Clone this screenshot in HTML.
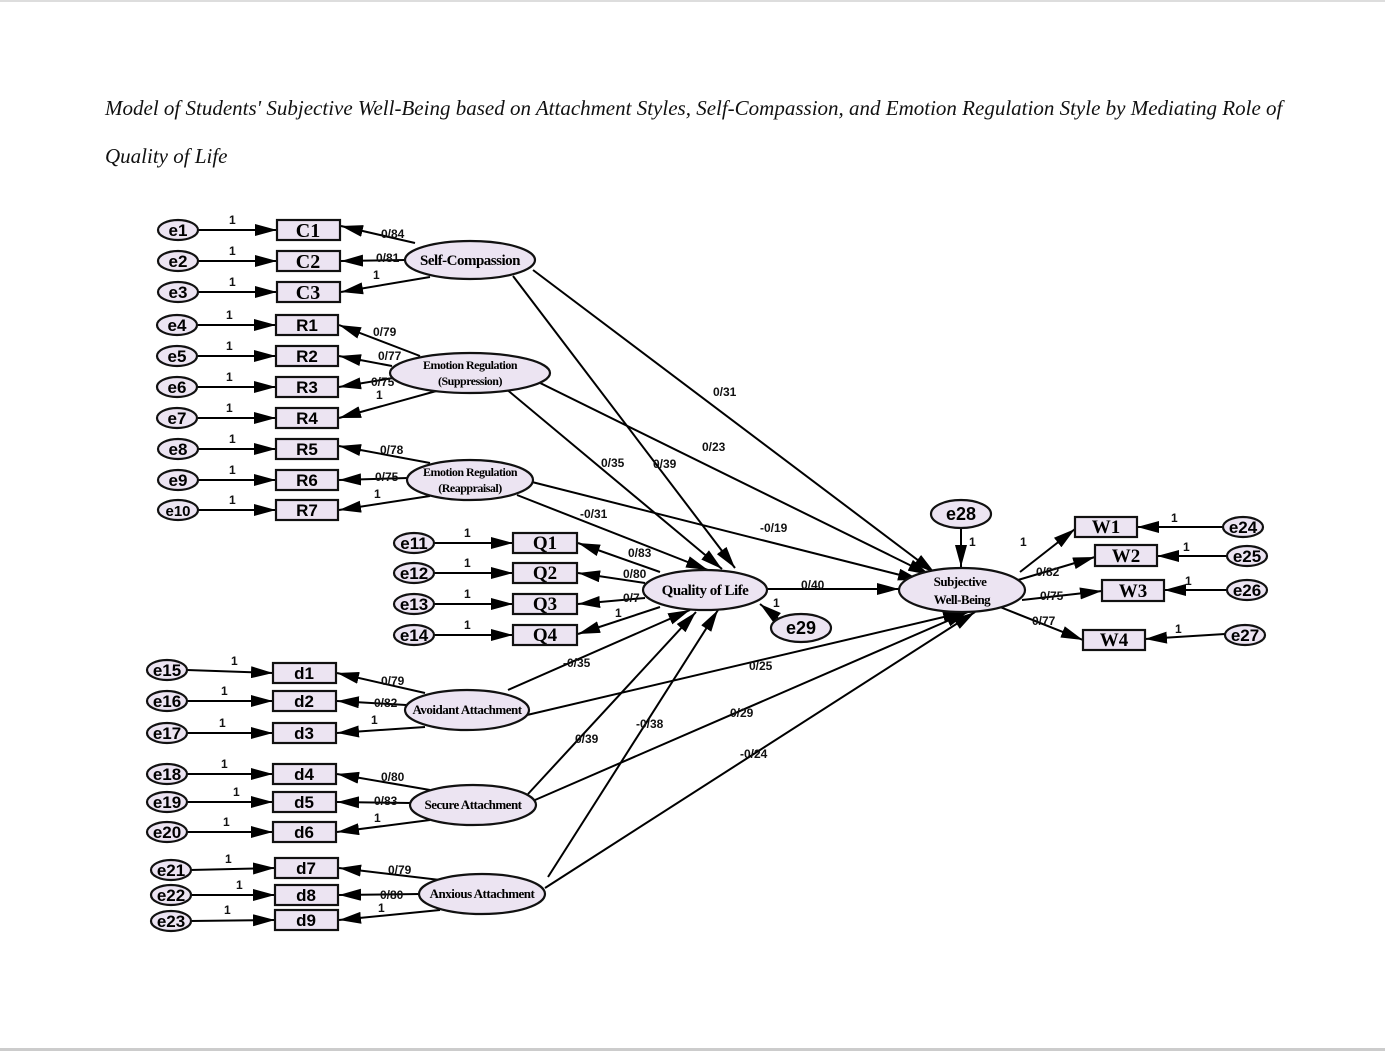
<!DOCTYPE html>
<html><head><meta charset="utf-8"><style>
html,body{margin:0;padding:0;background:#fff;}
body{width:1385px;height:1051px;position:relative;overflow:hidden;}
.t{position:absolute;left:105px;font-family:"Liberation Serif",serif;font-style:italic;font-size:21px;color:#111;}
</style></head><body>
<div style="position:absolute;left:0;top:0;width:1385px;height:2px;background:#ddd"></div>
<div style="position:absolute;left:0;top:1048px;width:1385px;height:3px;background:#ccc"></div>
<div class="t" style="top:96px">Model of Students' Subjective Well-Being based on Attachment Styles, Self-Compassion, and Emotion Regulation Style by Mediating Role of</div>
<div class="t" style="top:144px">Quality of Life</div>
<svg width="1385" height="1051" style="position:absolute;left:0;top:0">
<defs>
<marker id="b" markerWidth="22" markerHeight="12" refX="22" refY="6" orient="auto" markerUnits="userSpaceOnUse"><path d="M0,0 L22,6 L0,12z" fill="#000"/></marker></defs>
<g stroke="#000" stroke-width="2" fill="none" marker-end="url(#b)">
<line x1="198" y1="230" x2="277" y2="230"/><line x1="198" y1="261" x2="277" y2="261"/><line x1="198" y1="292" x2="277" y2="292"/>
<line x1="198" y1="325" x2="276" y2="325"/><line x1="198" y1="356" x2="276" y2="356"/><line x1="198" y1="387" x2="276" y2="387"/><line x1="198" y1="418" x2="276" y2="418"/>
<line x1="198" y1="449" x2="276" y2="449"/><line x1="198" y1="480" x2="276" y2="480"/><line x1="198" y1="510" x2="276" y2="510"/>
<line x1="434" y1="543" x2="513" y2="543"/><line x1="434" y1="573" x2="513" y2="573"/><line x1="434" y1="604" x2="513" y2="604"/><line x1="434" y1="635" x2="513" y2="635"/>
<line x1="187" y1="670" x2="273" y2="673"/><line x1="187" y1="701" x2="273" y2="701"/><line x1="187" y1="733" x2="273" y2="733"/>
<line x1="187" y1="774" x2="273" y2="774"/><line x1="187" y1="802" x2="273" y2="802"/><line x1="187" y1="832" x2="273" y2="832"/>
<line x1="190" y1="870" x2="275" y2="868"/><line x1="190" y1="895" x2="275" y2="895"/><line x1="190" y1="921" x2="275" y2="920"/>
<line x1="415" y1="243" x2="341" y2="226"/><line x1="405" y1="260" x2="341" y2="261"/><line x1="430" y1="277" x2="341" y2="292"/>
<line x1="420" y1="356" x2="339" y2="325"/><line x1="392" y1="366" x2="339" y2="356"/><line x1="393" y1="378" x2="339" y2="387"/><line x1="440" y1="390" x2="339" y2="418"/>
<line x1="430" y1="463" x2="339" y2="446"/><line x1="408" y1="478" x2="339" y2="480"/><line x1="430" y1="496" x2="339" y2="510"/>
<line x1="660" y1="572" x2="578" y2="543"/><line x1="645" y1="583" x2="578" y2="573"/><line x1="645" y1="598" x2="578" y2="604"/><line x1="660" y1="607" x2="578" y2="634"/>
<line x1="425" y1="693" x2="337" y2="673"/><line x1="406" y1="705" x2="337" y2="701"/><line x1="425" y1="727" x2="337" y2="733"/>
<line x1="430" y1="790" x2="337" y2="774"/><line x1="411" y1="803" x2="337" y2="802"/><line x1="430" y1="820" x2="337" y2="832"/>
<line x1="440" y1="880" x2="339" y2="868"/><line x1="420" y1="894" x2="339" y2="895"/><line x1="440" y1="910" x2="339" y2="920"/>
<line x1="1020" y1="572" x2="1075" y2="529"/><line x1="1018" y1="580" x2="1095" y2="557"/><line x1="1022" y1="600" x2="1102" y2="591"/><line x1="1000" y1="607" x2="1083" y2="640"/>
<line x1="1225" y1="527" x2="1137" y2="527"/><line x1="1227" y1="556" x2="1157" y2="556"/><line x1="1227" y1="590" x2="1164" y2="590"/><line x1="1225" y1="634" x2="1145" y2="639"/>
<line x1="961" y1="528" x2="961" y2="567"/>
<line x1="780" y1="620" x2="760" y2="604"/>
<line x1="513" y1="276" x2="735" y2="568"/>
<line x1="533" y1="270" x2="935" y2="573"/>
<line x1="505" y1="388" x2="722" y2="569"/>
<line x1="530" y1="378" x2="930" y2="575"/>
<line x1="517" y1="495" x2="708" y2="570"/>
<line x1="532" y1="482" x2="920" y2="580"/>
<line x1="767" y1="589" x2="899" y2="589"/>
<line x1="508" y1="690" x2="690" y2="610"/>
<line x1="527" y1="715" x2="965" y2="612"/>
<line x1="528" y1="794" x2="696" y2="612"/>
<line x1="535" y1="800" x2="968" y2="612"/>
<line x1="548" y1="877" x2="718" y2="610"/>
<line x1="545" y1="888" x2="975" y2="612"/>
</g>
<g stroke="#111" stroke-width="2.2" fill="#ece4f2">
<ellipse cx="178" cy="230" rx="20" ry="10"/><ellipse cx="178" cy="261" rx="20" ry="10"/><ellipse cx="178" cy="292" rx="20" ry="10"/>
<ellipse cx="177" cy="325" rx="20" ry="10"/><ellipse cx="177" cy="356" rx="20" ry="10"/><ellipse cx="177" cy="387" rx="20" ry="10"/><ellipse cx="177" cy="418" rx="20" ry="10"/>
<ellipse cx="178" cy="449" rx="20" ry="10"/><ellipse cx="178" cy="480" rx="20" ry="10"/><ellipse cx="178" cy="510" rx="20" ry="10"/>
<ellipse cx="414" cy="543" rx="20" ry="10"/><ellipse cx="414" cy="573" rx="20" ry="10"/><ellipse cx="414" cy="604" rx="20" ry="10"/><ellipse cx="414" cy="635" rx="20" ry="10"/>
<ellipse cx="167" cy="670" rx="20" ry="10"/><ellipse cx="167" cy="701" rx="20" ry="10"/><ellipse cx="167" cy="733" rx="20" ry="10"/>
<ellipse cx="167" cy="774" rx="20" ry="10"/><ellipse cx="167" cy="802" rx="20" ry="10"/><ellipse cx="167" cy="832" rx="20" ry="10"/>
<ellipse cx="171" cy="870" rx="20" ry="10"/><ellipse cx="171" cy="895" rx="20" ry="10"/><ellipse cx="171" cy="921" rx="20" ry="10"/>
<ellipse cx="1243" cy="527" rx="20" ry="10"/><ellipse cx="1247" cy="556" rx="20" ry="10"/><ellipse cx="1247" cy="590" rx="20" ry="10"/><ellipse cx="1245" cy="635" rx="20" ry="10"/>
<ellipse cx="961" cy="514" rx="30" ry="14"/><ellipse cx="801" cy="628" rx="30" ry="14"/>
<ellipse cx="470" cy="260" rx="65" ry="19"/><ellipse cx="470" cy="373" rx="80" ry="20"/><ellipse cx="470" cy="480" rx="63" ry="20"/>
<ellipse cx="705" cy="590" rx="62" ry="20"/><ellipse cx="962" cy="590" rx="63" ry="22"/>
<ellipse cx="467" cy="710" rx="62" ry="20"/><ellipse cx="473" cy="805" rx="63" ry="20"/><ellipse cx="482" cy="894" rx="63" ry="20"/>
<rect x="277" y="220" width="63" height="20"/><rect x="277" y="251" width="63" height="20"/><rect x="277" y="282" width="63" height="20"/>
<rect x="276" y="315" width="62" height="20"/><rect x="276" y="346" width="62" height="20"/><rect x="276" y="377" width="62" height="20"/><rect x="276" y="408" width="62" height="20"/>
<rect x="276" y="439" width="62" height="20"/><rect x="276" y="470" width="62" height="20"/><rect x="276" y="500" width="62" height="20"/>
<rect x="513" y="533" width="64" height="20"/><rect x="513" y="563" width="64" height="20"/><rect x="513" y="594" width="64" height="20"/><rect x="513" y="625" width="64" height="20"/>
<rect x="273" y="663" width="63" height="20"/><rect x="273" y="691" width="63" height="20"/><rect x="273" y="723" width="63" height="20"/>
<rect x="273" y="764" width="63" height="20"/><rect x="273" y="792" width="63" height="20"/><rect x="273" y="822" width="63" height="20"/>
<rect x="275" y="858" width="63" height="20"/><rect x="275" y="885" width="63" height="20"/><rect x="275" y="910" width="63" height="20"/>
<rect x="1075" y="517" width="62" height="20"/><rect x="1095" y="545" width="62" height="21"/><rect x="1102" y="580" width="62" height="21"/><rect x="1083" y="630" width="62" height="20"/>
</g>
<g font-family="Liberation Sans,sans-serif" font-weight="bold" font-size="17" text-anchor="middle" fill="#000">
<text x="178" y="236">e1</text><text x="178" y="267">e2</text><text x="178" y="298">e3</text><text x="177" y="331">e4</text><text x="177" y="362">e5</text><text x="177" y="393">e6</text><text x="177" y="424">e7</text><text x="178" y="455">e8</text><text x="178" y="486">e9</text><text x="178" y="516" font-size="15">e10</text>
<text x="414" y="549">e11</text><text x="414" y="579">e12</text><text x="414" y="610">e13</text><text x="414" y="641">e14</text>
<text x="167" y="676">e15</text><text x="167" y="707">e16</text><text x="167" y="739">e17</text><text x="167" y="780">e18</text><text x="167" y="808">e19</text><text x="167" y="838">e20</text>
<text x="171" y="876">e21</text><text x="171" y="901">e22</text><text x="171" y="927">e23</text>
<text x="1243" y="533">e24</text><text x="1247" y="562">e25</text><text x="1247" y="596">e26</text><text x="1245" y="641">e27</text>
<text x="961" y="520" font-size="18">e28</text><text x="801" y="634" font-size="18">e29</text>
<text x="308" y="237" font-family="Liberation Serif,serif" font-size="20">C1</text><text x="308" y="268" font-family="Liberation Serif,serif" font-size="20">C2</text><text x="308" y="299" font-family="Liberation Serif,serif" font-size="20">C3</text>
<text x="307" y="331">R1</text><text x="307" y="362">R2</text><text x="307" y="393">R3</text><text x="307" y="424">R4</text><text x="307" y="455">R5</text><text x="307" y="486">R6</text><text x="307" y="516">R7</text>
<g font-family="Liberation Serif,serif" font-size="19"><text x="545" y="549">Q1</text><text x="545" y="579">Q2</text><text x="545" y="610">Q3</text><text x="545" y="641">Q4</text>
<text x="1106" y="533">W1</text><text x="1126" y="562">W2</text><text x="1133" y="597">W3</text><text x="1114" y="646">W4</text></g>
<text x="304" y="679">d1</text><text x="304" y="707">d2</text><text x="304" y="739">d3</text><text x="304" y="780">d4</text><text x="304" y="808">d5</text><text x="304" y="838">d6</text><text x="306" y="874">d7</text><text x="306" y="901">d8</text><text x="306" y="926">d9</text>
</g>
<g font-family="Liberation Serif,serif" font-weight="bold" text-anchor="middle" fill="#000" letter-spacing="-0.5">
<text x="470" y="265" font-size="15">Self-Compassion</text>
<text x="470" y="369" font-size="12">Emotion Regulation</text><text x="470" y="385" font-size="12">(Suppression)</text>
<text x="470" y="476" font-size="12">Emotion Regulation</text><text x="470" y="492" font-size="12">(Reappraisal)</text>
<text x="705" y="595" font-size="15">Quality of Life</text>
<text x="960" y="586" font-size="13">Subjective</text><text x="962" y="604" font-size="13">Well-Being</text>
<text x="467" y="714" font-size="13">Avoidant Attachment</text><text x="473" y="809" font-size="13">Secure Attachment</text><text x="482" y="898" font-size="13">Anxious Attachment</text>
</g>
<g font-family="Liberation Sans,sans-serif" font-size="12" font-weight="600" fill="#111">
<text x="229" y="224">1</text><text x="229" y="255">1</text><text x="229" y="286">1</text><text x="226" y="319">1</text><text x="226" y="350">1</text><text x="226" y="381">1</text><text x="226" y="412">1</text><text x="229" y="443">1</text><text x="229" y="474">1</text><text x="229" y="504">1</text>
<text x="464" y="537">1</text><text x="464" y="567">1</text><text x="464" y="598">1</text><text x="464" y="629">1</text>
<text x="231" y="665">1</text><text x="221" y="695">1</text><text x="219" y="727">1</text><text x="221" y="768">1</text><text x="233" y="796">1</text><text x="223" y="826">1</text><text x="225" y="863">1</text><text x="236" y="889">1</text><text x="224" y="914">1</text>
<text x="381" y="238">0/84</text><text x="376" y="262">0/81</text><text x="373" y="279">1</text>
<text x="373" y="336">0/79</text><text x="378" y="360">0/77</text><text x="371" y="386">0/75</text><text x="376" y="399">1</text>
<text x="380" y="454">0/78</text><text x="375" y="481">0/75</text><text x="374" y="498">1</text>
<text x="628" y="557">0/83</text><text x="623" y="578">0/80</text><text x="623" y="602">0/7</text><text x="615" y="617">1</text>
<text x="381" y="685">0/79</text><text x="374" y="707">0/82</text><text x="371" y="724">1</text>
<text x="381" y="781">0/80</text><text x="374" y="805">0/83</text><text x="374" y="822">1</text>
<text x="388" y="874">0/79</text><text x="380" y="899">0/80</text><text x="378" y="912">1</text>
<text x="713" y="396">0/31</text><text x="702" y="451">0/23</text><text x="601" y="467">0/35</text><text x="653" y="468">0/39</text>
<text x="580" y="518">-0/31</text><text x="760" y="532">-0/19</text><text x="801" y="589">0/40</text>
<text x="563" y="667">-0/35</text><text x="749" y="670">0/25</text><text x="636" y="728">-0/38</text><text x="730" y="717">0/29</text>
<text x="575" y="743">0/39</text><text x="740" y="758">-0/24</text>
<text x="1020" y="546">1</text><text x="1036" y="576">0/82</text><text x="1040" y="600">0/75</text><text x="1032" y="625">0/77</text>
<text x="1171" y="522">1</text><text x="1183" y="551">1</text><text x="1185" y="585">1</text><text x="1175" y="633">1</text>
<text x="969" y="546">1</text><text x="773" y="607">1</text>
</g>
</svg>
</body></html>
